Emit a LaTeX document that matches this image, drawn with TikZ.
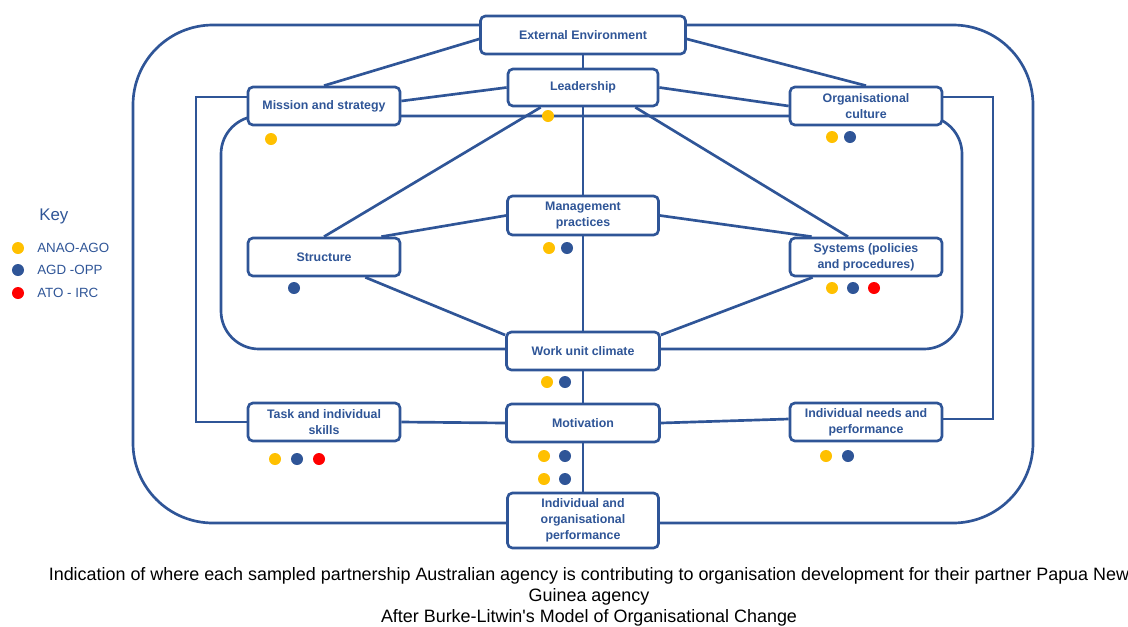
\documentclass[tikz,border=0pt]{standalone}
\usepackage{fontspec}
\setmainfont{Liberation Sans}
\newfontfamily\capfont{Liberation Sans}
\usetikzlibrary{positioning, calc}

\definecolor{olblue}{RGB}{47,85,151}
\definecolor{olyellow}{RGB}{255,192,0}
\definecolor{olred}{RGB}{255,0,0}

\begin{document}
\begin{tikzpicture}[
  x=0.025cm, y=-0.025cm,
  box/.style={draw=olblue, fill=white, rounded corners=3.5pt, line width=1.9pt,
              align=center, text=olblue, font=\fontsize{8.8}{11.2}\selectfont\bfseries,
              minimum width=3.8cm, minimum height=0.95cm, inner sep=1pt},
  link/.style={draw=olblue, line width=1.9pt},
  loopline/.style={link, rounded corners=2cm},
  innerloop/.style={link, rounded corners=0.95cm},
  dot/.style={circle, inner sep=0pt, minimum size=0.3cm},
  ydot/.style={dot, fill=olyellow},
  bdot/.style={dot, fill=olblue},
  rdot/.style={dot, fill=olred},
  keytxt/.style={text=olblue, font=\fontsize{9.5}{11}\selectfont, anchor=west, inner sep=0pt},
  captxt/.style={font=\capfont\fontsize{12.75}{14.8}\selectfont, align=center},
]
\useasboundingbox (0,0) rectangle (1128,626);

% ---- the two loops behind the boxes ----
\draw[loopline] (133,25) rectangle (1033,523);
\draw[innerloop] (221,116) rectangle (962,349);

% ---- boxes ----
\node[box, minimum width=5.125cm] (ext) at (583,35) {External Environment};
\node[box, minimum width=3.75cm, minimum height=0.925cm] (lead) at (583,87.5) {Leadership};
\node[box] (mission) at (324,106) {Mission and strategy};
\node[box] (culture) at (866,106) {Organisational\\culture};
\node[box, minimum width=3.775cm, minimum height=0.975cm] (mgmt) at (583,215.5) {Management\\practices};
\node[box] (struct) at (324,257) {Structure};
\node[box] (systems) at (866,257) {Systems (policies\\and procedures)};
\node[box, minimum width=3.825cm] (climate) at (583,351) {Work unit climate};
\node[box] (task) at (324,422) {Task and individual\\skills};
\node[box, minimum width=3.825cm] (motiv) at (583,423) {Motivation};
\node[box] (needs) at (866,422) {Individual needs and\\performance};
\node[box, minimum width=3.775cm, minimum height=1.375cm] (perf) at (583,520.5) {Individual and\\organisational\\performance};

% ---- feedback turns ----
\coordinate (fbl) at (196,260);
\coordinate (fbr) at (993,260);

% ---- links ----
\draw[link] ([yshift=-0.1cm]ext.west) -- (mission.north);
\draw[link] ([yshift=-0.1cm]ext.east) -- (culture.north);
\draw[link] (ext.south) -- (lead.north);
\draw[link] ([yshift=0.125cm]mission.east) -- (lead.west);
\draw[link] (lead.east) -- (culture.west);
\draw[link] ([xshift=0.85cm]lead.south west) -- (struct.north);
\draw[link] ([xshift=-0.6cm]lead.south east) -- ([xshift=-0.45cm]systems.north);
\draw[link] (lead.south) -- (mgmt.north);
\draw[link] ([xshift=-0.5cm]struct.north east) -- (mgmt.west);
\draw[link] (mgmt.east) -- ([xshift=0.575cm]systems.north west);
\draw[link] (mgmt.south) -- (climate.north);
\draw[link] ([xshift=-0.9cm]struct.south east) -- ([yshift=0.4cm]climate.west);
\draw[link] ([xshift=0.6cm]systems.south west) -- ([yshift=0.4cm]climate.east);
\draw[link] (climate.south) -- (motiv.north);
\draw[link] (motiv.south) -- (perf.north);
\draw[link] (task.east) -- (motiv.west);
\draw[link] (motiv.east) -- ([yshift=0.075cm]needs.west);
\draw[link] ([yshift=0.225cm]mission.west) -| (fbl) |- (task.west);
\draw[link] ([yshift=0.225cm]culture.east) -| (fbr) |- ([yshift=0.075cm]needs.east);

% ---- agency markers ----
\node[ydot] (lead-y) at (548,116) {};
\node[ydot] (mission-y) at (271,139) {};
\node[ydot] (culture-y) at (832,137) {};
\node[bdot] (culture-b) at (850,137) {};
\node[ydot] (mgmt-y) at (549,248) {};
\node[bdot] (mgmt-b) at (567,248) {};
\node[bdot] (struct-b) at (294,288) {};
\node[ydot] (systems-y) at (832,288) {};
\node[bdot] (systems-b) at (853,288) {};
\node[rdot] (systems-r) at (874,288) {};
\node[ydot] (climate-y) at (547,382) {};
\node[bdot] (climate-b) at (565,382) {};
\node[ydot] (task-y) at (275,459) {};
\node[bdot] (task-b) at (297,459) {};
\node[rdot] (task-r) at (319,459) {};
\node[ydot] (motiv-y1) at (544,456) {};
\node[bdot] (motiv-b1) at (565,456) {};
\node[ydot] (motiv-y2) at (544,479) {};
\node[bdot] (motiv-b2) at (565,479) {};
\node[ydot] (needs-y) at (826,456) {};
\node[bdot] (needs-b) at (848,456) {};

% ---- key ----
\node[keytxt, font=\fontsize{12}{13}\selectfont] (key) at (39,216) {Key};
\node[ydot] (key-y) at (18,248) {};
\node[bdot] (key-b) at (18,270) {};
\node[rdot] (key-r) at (18,293) {};
\node[keytxt] (key-ylbl) at (37,248) {ANAO-AGO};
\node[keytxt] (key-blbl) at (37,270) {AGD -OPP};
\node[keytxt] (key-rlbl) at (37,293) {ATO - IRC};

% ---- caption ----
\node[captxt] (caption) at (589,597) {Indication of where each sampled partnership Australian agency is contributing to organisation development for their partner Papua New\\Guinea agency\\After Burke-Litwin's Model of Organisational Change};
\end{tikzpicture}
\end{document}
